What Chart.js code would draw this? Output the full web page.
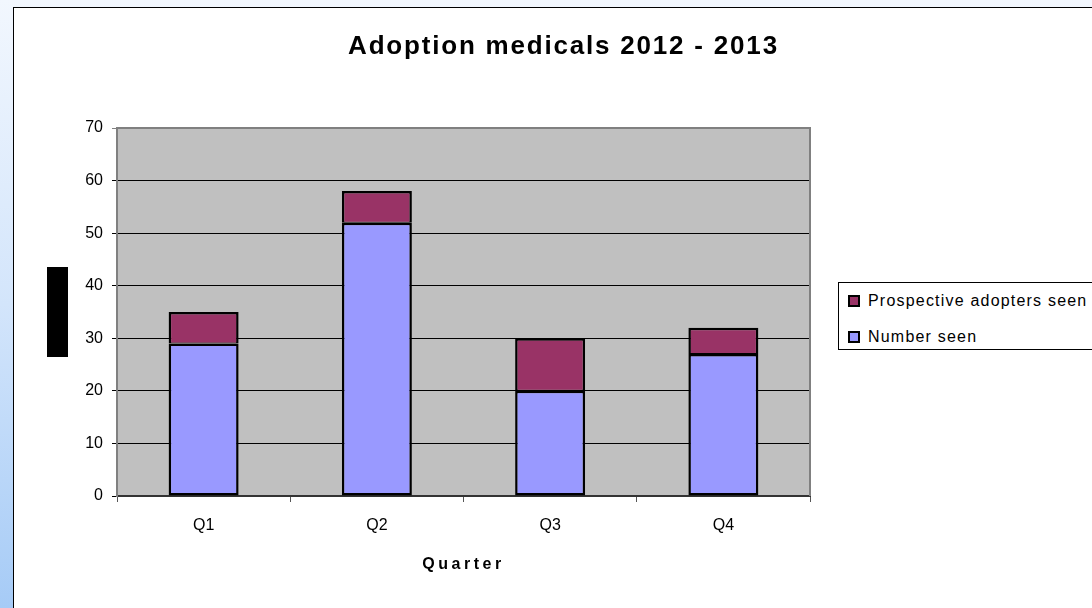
<!DOCTYPE html>
<html>
<head>
<meta charset="utf-8">
<script src="https://cdn.jsdelivr.net/npm/chart.js@4.4.1/dist/chart.umd.min.js"></script>
<style>
  html, body { margin: 0; padding: 0; width: 1092px; height: 608px; overflow: hidden; }
  body { background: linear-gradient(to bottom, #f2f7fe 0%, #d3e5fb 50%, #a6cbf6 100%); position: relative; font-family: "Liberation Sans", Arial, sans-serif; }
  #frame { position: absolute; left: 13px; top: 7px; width: 1200px; height: 700px; background: #fff; border: 1px solid #000; }
  #c { position: absolute; left: 0; top: 0; }
  #legend { position: absolute; left: 838px; top: 282px; width: 300px; height: 68px; border: 1px solid #000; background: #fff; box-sizing: border-box; }
  .item { position: absolute; left: 9px; height: 20px; display: flex; align-items: center; font-size: 16px; letter-spacing: 1.2px; color: #000; white-space: nowrap; }
  .sw { width: 8px; height: 8px; border: 2px solid #000; margin-right: 8px; flex: none; }
</style>
</head>
<body>
<div id="frame"></div>
<canvas id="c" width="1092" height="608"></canvas>
<div id="legend"></div>
<script>
const categories = ['Q1', 'Q2', 'Q3', 'Q4'];
const numberSeen = [29, 52, 20, 27];
const prospectiveAdoptersSeen = [6, 6, 10, 5];
const seriesNames = ['Number seen', 'Prospective adopters seen'];
const seriesColors = ['#9999FF', '#993366'];
const yTicks = [0, 10, 20, 30, 40, 50, 60, 70];
const chartTitle = 'Adoption medicals 2012 - 2013';
const xAxisTitle = 'Quarter';

const plotBg = {
  id: 'plotBg',
  beforeDraw(chart) {
    const {ctx, chartArea: a} = chart;
    ctx.save();
    ctx.fillStyle = '#C0C0C0';
    ctx.fillRect(a.left, a.top, a.right - a.left, a.bottom - a.top);
    ctx.restore();
  },
  beforeDatasetsDraw(chart) {
    const {ctx, chartArea: a} = chart;
    ctx.save();
    ctx.strokeStyle = '#808080';
    ctx.lineWidth = 2;
    ctx.beginPath();
    ctx.moveTo(a.left, a.top);
    ctx.lineTo(a.right, a.top);
    ctx.lineTo(a.right, a.bottom);
    ctx.stroke();
    ctx.restore();
  },
  afterDraw(chart) {
    const {ctx, chartArea: a} = chart;
    const cy = (a.top + a.bottom) / 2;
    ctx.save();
    ctx.fillStyle = '#000';
    ctx.fillRect(a.left - 70, cy - 45, 21, 90);
    ctx.restore();
  }
};

const chart = new Chart(document.getElementById('c'), {
  type: 'bar',
  data: {
    labels: categories,
    datasets: [
      {
        label: seriesNames[0],
        data: numberSeen,
        backgroundColor: seriesColors[0],
        borderColor: '#000',
        borderWidth: 2.5,
        borderSkipped: false,
        barPercentage: 0.404,
        categoryPercentage: 1
      },
      {
        label: seriesNames[1],
        data: prospectiveAdoptersSeen,
        backgroundColor: seriesColors[1],
        borderColor: '#000',
        borderWidth: {top: 2.5, left: 2.5, right: 2.5, bottom: 1},
        borderSkipped: false,
        barPercentage: 0.404,
        categoryPercentage: 1
      }
    ]
  },
  options: {
    responsive: false,
    animation: false,
    devicePixelRatio: 1,
    layout: { padding: { left: 0, right: 282, top: 0, bottom: 0 } },
    plugins: {
      legend: { display: false },
      tooltip: { enabled: false },
      title: {
        display: true,
        text: chartTitle,
        fullSize: false,
        color: '#000',
        font: { family: '"Liberation Sans", Arial, sans-serif', size: 26, weight: 'bold' },
        padding: { top: 31, bottom: 65.8 }
      }
    },
    scales: {
      x: {
        stacked: true,
        afterFit(scale) { scale.height = 112; },
        grid: { offset: true, drawOnChartArea: false, drawTicks: true, tickLength: 6, color: '#555', lineWidth: 1 },
        border: { color: '#333', width: 2 },
        ticks: { color: '#000', padding: 14, font: { family: '"Liberation Sans", Arial, sans-serif', size: 16 } },
        title: {
          display: true,
          text: xAxisTitle,
          color: '#000',
          font: { family: '"Liberation Sans", Arial, sans-serif', size: 16, weight: 'bold' },
          padding: { top: 0, bottom: 34 }
        }
      },
      y: {
        stacked: true,
        min: 0,
        max: 70,
        afterFit(scale) { scale.width = 117; },
        afterBuildTicks(scale) { scale.ticks = yTicks.map(v => ({ value: v })); },
        grid: {
          color: (c) => (c.tick && c.tick.value === 70 ? '#808080' : '#000'),
          lineWidth: 1,
          tickLength: 5
        },
        border: { color: '#808080', width: 2 },
        ticks: { color: '#000', padding: 9, font: { family: '"Liberation Sans", Arial, sans-serif', size: 16 } }
      }
    }
  },
  plugins: [plotBg]
});

function withSpacing(obj, method, spacing, dx) {
  const orig = obj[method];
  obj[method] = function (...args) {
    const c = this.ctx;
    c.save();
    c.letterSpacing = spacing;
    if (dx) c.translate(dx, 0);
    const r = orig.apply(this, args);
    c.restore();
    return r;
  };
}
// title is centred on the whole chart frame rather than on the plot area
if (chart.titleBlock) withSpacing(chart.titleBlock, 'draw', '1.8px', 100);
withSpacing(chart.scales.x, 'drawTitle', '3.5px', 0);
chart.draw();

// HTML legend built from the datasets (reversed order, as in the reference)
const legend = document.getElementById('legend');
chart.data.datasets.slice().reverse().forEach((ds, i) => {
  const it = document.createElement('div');
  it.className = 'item';
  it.style.top = (8 + i * 36) + 'px';
  const sw = document.createElement('span');
  sw.className = 'sw';
  sw.style.background = ds.backgroundColor;
  it.appendChild(sw);
  it.appendChild(document.createTextNode(ds.label));
  legend.appendChild(it);
});
</script>
</body>
</html>
